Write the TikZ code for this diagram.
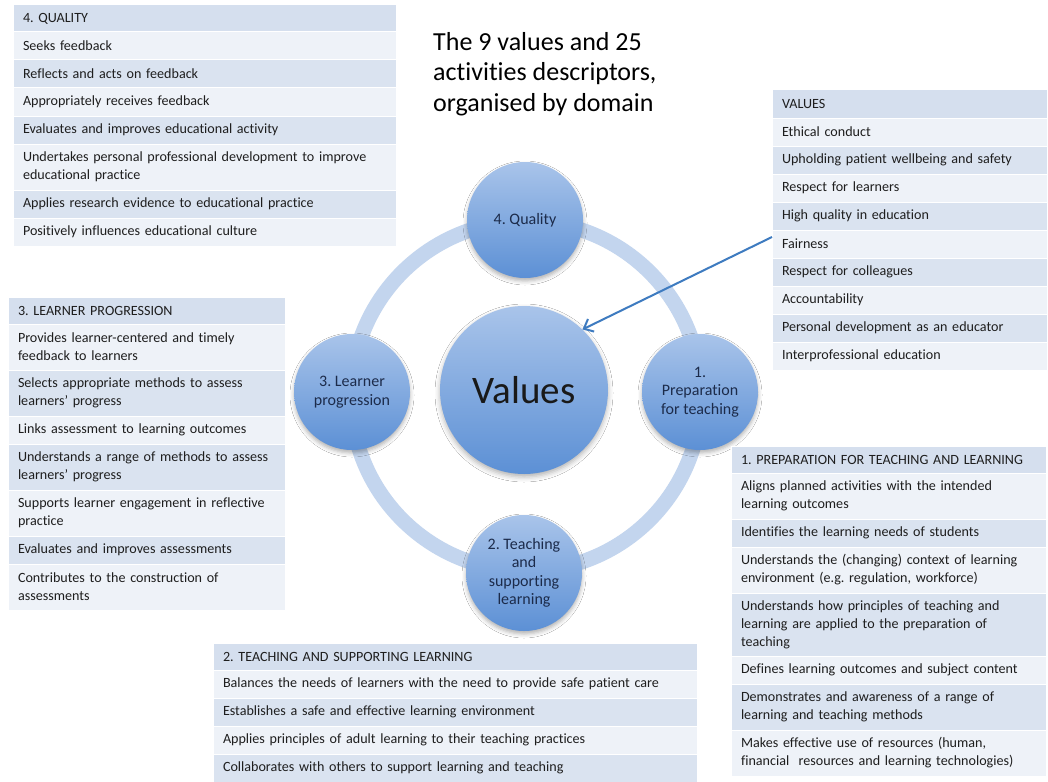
\documentclass[tikz,border=0pt]{standalone}
\usepackage{fontspec}
\setmainfont{Carlito}[Ligatures=NoCommon]
\usetikzlibrary{arrows.meta,shadows.blur}
\definecolor{hdrc}{HTML}{D5DFEE}
\definecolor{rowa}{HTML}{EEF2F8}
\definecolor{rowb}{HTML}{DAE3F0}
\definecolor{ringc}{HTML}{C3D5EE}
\definecolor{ctop}{HTML}{A9C4EA}
\definecolor{cbot}{HTML}{5C90D5}
\definecolor{navy}{HTML}{1C2B4A}
\definecolor{arrowc}{HTML}{3E7BC0}
\definecolor{txt}{HTML}{1E1E1E}
\frenchspacing
\hyphenpenalty=10000
\begin{document}
\begin{tikzpicture}[x=1pt,y=-1pt,
  tcell/.style={draw=white, line width=1pt, outer sep=0pt, inner xsep=10pt, inner ysep=0pt,
    anchor=north west, minimum height=#1, align=left, text=txt,
    font=\fontsize{14.1}{18}\selectfont},
  hd/.style={tcell=27, fill=hdrc},
  ra/.style={tcell=#1, fill=rowa},
  rb/.style={tcell=#1, fill=rowb},
  bubble/.style={circle, minimum size=116pt, inner sep=0pt, align=center,
    top color=ctop, bottom color=cbot, text=navy,
    font=\fontsize{16}{18.5}\selectfont,
    blur shadow={shadow xshift=0pt, shadow yshift=-3pt, shadow blur radius=4pt, shadow opacity=30}},
  titlet/.style={anchor=base west, inner sep=0pt, text=black, font=\fontsize{26}{30}\selectfont},
]
\useasboundingbox[fill=white] (0,0) rectangle (1048,781);

% ---------- title ----------
\node[titlet] (t1) at (433,51) {The 9 values and 25};
\node[titlet] (t2) at (433,81) {activities descriptors,};
\node[titlet] (t3) at (433,111) {organised by domain};

% ---------- ring and circles ----------
\node[circle, draw=ringc, line width=15pt, minimum size=350pt, inner sep=0pt] (ring) at (526,396) {};
\node[circle, minimum size=168pt, inner sep=0pt, top color=ctop, bottom color=cbot,
  text=black!90, font=\fontsize{39}{44}\selectfont,
  blur shadow={shadow xshift=0pt, shadow yshift=-3pt, shadow blur radius=5pt, shadow opacity=30}]
  (values) at (524,390) {Values};
\node[bubble] (quality) at (525,220) {4. Quality};
\node[bubble] (learner) at (352,392) {3. Learner\\progression};
\node[bubble] (prep) at (700,392) {1.\\Preparation\\for teaching};
\node[bubble] (teach) at (524,573) {2. Teaching\\and\\supporting\\learning};

% ---------- 4. QUALITY ----------
\begin{scope}[every node/.append style={text width=363pt}]
\node[hd] (q0) at (13,5) {4. QUALITY};
\node[ra=28] (q1) at (q0.south west) {Seeks feedback};
\node[rb=28] (q2) at (q1.south west) {Reflects and acts on feedback};
\node[ra=28] (q3) at (q2.south west) {Appropriately receives feedback};
\node[rb=28] (q4) at (q3.south west) {Evaluates and improves educational activity};
\node[ra=46] (q5) at (q4.south west) {Undertakes personal professional development to improve\\educational practice};
\node[rb=28] (q6) at (q5.south west) {Applies research evidence to educational practice};
\node[ra=28] (q7) at (q6.south west) {Positively influences educational culture};
\end{scope}

% ---------- 3. LEARNER PROGRESSION ----------
\begin{scope}[every node/.append style={text width=257pt}]
\node[hd] (l0) at (8,297) {3. LEARNER PROGRESSION};
\node[ra=46] (l1) at (l0.south west) {Provides learner-centered and timely\\feedback to learners};
\node[rb=46] (l2) at (l1.south west) {Selects appropriate methods to assess\\learners’ progress};
\node[ra=28] (l3) at (l2.south west) {Links assessment to learning outcomes};
\node[rb=46] (l4) at (l3.south west) {Understands a range of methods to assess\\learners’ progress};
\node[ra=46] (l5) at (l4.south west) {Supports learner engagement in reflective\\practice};
\node[rb=28] (l6) at (l5.south west) {Evaluates and improves assessments};
\node[ra=46] (l7) at (l6.south west) {Contributes to the construction of\\assessments};
\end{scope}

% ---------- VALUES ----------
\begin{scope}[every node/.append style={text width=255pt}]
\node[hd, minimum height=28pt] (v0) at (772,90) {VALUES};
\node[ra=28] (v1) at (v0.south west) {Ethical conduct};
\node[rb=28] (v2) at (v1.south west) {Upholding patient wellbeing and safety};
\node[ra=28] (v3) at (v2.south west) {Respect for learners};
\node[rb=28] (v4) at (v3.south west) {High quality in education};
\node[ra=28] (fair) at (v4.south west) {Fairness};
\node[rb=28] (v6) at (fair.south west) {Respect for colleagues};
\node[ra=28] (v7) at (v6.south west) {Accountability};
\node[rb=28] (v8) at (v7.south west) {Personal development as an educator};
\node[ra=28] (v9) at (v8.south west) {Interprofessional education};
\end{scope}

% ---------- 1. PREPARATION ----------
\begin{scope}[every node/.append style={text width=295pt}]
\node[hd] (p0) at (731,446) {1. PREPARATION FOR TEACHING AND LEARNING};
\node[ra=46] (p1) at (p0.south west) {Aligns planned activities with the intended\\learning outcomes};
\node[rb=28] (p2) at (p1.south west) {Identifies the learning needs of students};
\node[ra=46] (p3) at (p2.south west) {Understands the (changing) context of learning\\environment (e.g. regulation, workforce)};
\node[rb=63] (p4) at (p3.south west) {Understands how principles of teaching and\\learning are applied to the preparation of\\teaching};
\node[ra=28] (p5) at (p4.south west) {Defines learning outcomes and subject content};
\node[rb=46] (p6) at (p5.south west) {Demonstrates and awareness of a range of\\learning and teaching methods};
\node[ra=46] (p7) at (p6.south west) {Makes effective use of resources (human,\\financial\ \ resources and learning technologies)};
\end{scope}

% ---------- 2. TEACHING ----------
\begin{scope}[every node/.append style={text width=464pt}]
\node[hd] (s0) at (213,643) {2. TEACHING AND SUPPORTING LEARNING};
\node[ra=28] (s1) at (s0.south west) {Balances the needs of learners with the need to provide safe patient care};
\node[rb=28] (s2) at (s1.south west) {Establishes a safe and effective learning environment};
\node[ra=28] (s3) at (s2.south west) {Applies principles of adult learning to their teaching practices};
\node[rb=28] (s4) at (s3.south west) {Collaborates with others to support learning and teaching};
\end{scope}

% ---------- arrow ----------
\draw[arrowc, line width=2pt, -{Straight Barb[length=8pt,width=14pt]}]
  ([yshift=7pt]fair.west) -- (values.46);
\end{tikzpicture}
\end{document}
